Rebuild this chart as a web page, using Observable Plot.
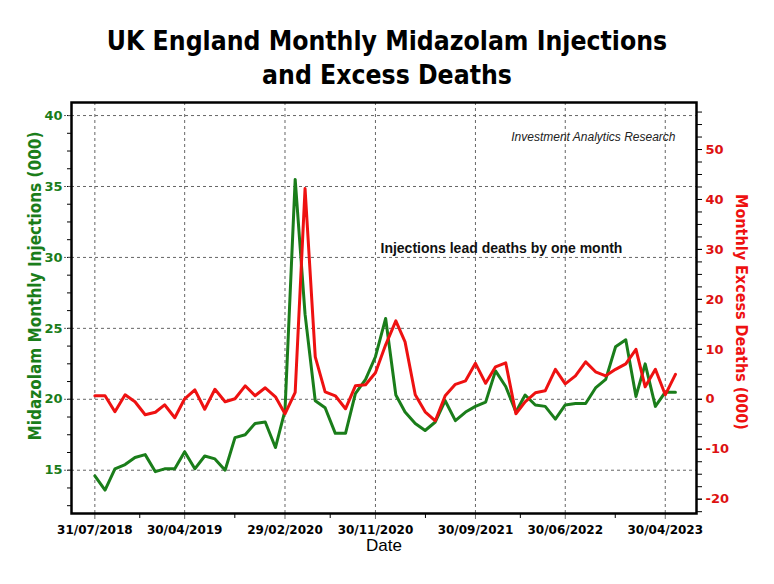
<!DOCTYPE html>
<html><head><meta charset="utf-8">
<script src="https://cdn.jsdelivr.net/npm/d3@7"></script>
<script src="https://cdn.jsdelivr.net/npm/@observablehq/plot@0.6"></script>
<style>
body{margin:0;background:#fff;}
#wrap{position:relative;width:774px;height:584px;overflow:hidden;}
#wrap svg{position:absolute;left:0;top:0;}
#title{position:absolute;left:0;top:24px;width:774px;text-align:center;font-family:"DejaVu Sans";font-weight:bold;font-size:26.3px;font-stretch:condensed;line-height:34px;color:#000;}
</style></head><body>
<div id="wrap"></div>
<script>
// ---- data (monthly, month-end dates starting 31/07/2018) ----
const startYear = 2018, startMonth = 7; // day 0 of August = 31 July
const injections = [14.6,13.6,15.1,15.4,15.9,16.1,14.9,15.1,15.1,16.3,
  15.1,16.0,15.8,15.0,17.3,17.5,18.3,18.4,16.6,19.2,
  35.5,26.0,19.9,19.4,17.6,17.6,20.4,21.4,23.0,25.7,
  20.3,19.1,18.3,17.8,18.4,19.9,18.5,19.1,19.5,19.8,
  22.0,20.9,19.1,20.3,19.6,19.5,18.6,19.6,19.7,19.7,
  20.8,21.4,23.7,24.2,20.2,22.5,19.5,20.5,20.5];
const excessDeaths = [0.7,0.7,-2.5,0.9,-0.5,-3.1,-2.6,-1.1,-3.7,0.1,
  1.9,-2.0,2.0,-0.5,0.1,2.7,0.7,2.3,0.5,-2.9,
  1.4,42.2,8.5,1.5,0.7,-1.9,2.7,2.9,5.3,10.9,
  15.7,11.5,0.9,-2.5,-4.3,0.7,3.0,3.7,7.2,3.2,
  6.5,7.3,-2.9,-0.5,1.3,1.7,6.0,3.1,4.7,7.5,
  5.5,4.7,6.0,7.1,10.0,2.5,6.0,0.9,5.0];
const xTickLabels = ["31/07/2018","30/04/2019","29/02/2020","30/11/2020","30/09/2021","30/06/2022","30/04/2023"];
const leftTicks = [15,20,25,30,35,40];
const rightTicks = [-20,-10,0,10,20,30,40,50];

const green = "#1a7d1a", red = "#ee1111";
const parse = d3.utcParse("%d/%m/%Y");
const fmt = d3.utcFormat("%d/%m/%Y");
const dates = injections.map((_, i) => new Date(Date.UTC(startYear, startMonth + i, 0)));
const xTicks = xTickLabels.map(parse);
const xMinor = xTicks.slice(1).map((d, i) => new Date((+d + +xTicks[i]) / 2));
// right axis (excess deaths) expressed on the left scale: 10 deaths units = 50px, 5 injection units = 71px
const rToL = r => 20 + r * 5 / 14.2;
const lToR = l => Math.round((l - 20) * 14.2 / 5);
const leftMinor = d3.range(12.5, 41, 1.25);
const rightMinor = d3.range(-22.5, 60, 2.5).map(rToL);

const inj = dates.map((d, i) => ({date: d, v: injections[i]}));
const dth = dates.map((d, i) => ({date: d, v: rToL(excessDeaths[i])}));

const labelFont = "DejaVu Sans Condensed, DejaVu Sans";
const chart = Plot.plot({
  width: 774, height: 584,
  marginLeft: 71, marginRight: 78, marginTop: 102, marginBottom: 71,
  style: {fontFamily: "DejaVu Sans", background: "#fff"},
  x: {type: "utc", domain: [new Date(Date.UTC(2018,4,21)), new Date(Date.UTC(2023,7,3))]},
  y: {domain: [11.95, 40.92]},
  marks: [
    Plot.gridX({ticks: xTicks, stroke: "#666", strokeOpacity: 1, strokeDasharray: "3,3"}),
    Plot.gridY({ticks: leftTicks, stroke: "#666", strokeOpacity: 1, strokeDasharray: "3,3"}),
    Plot.axisY({ticks: leftMinor, tickSize: 4, tickFormat: () => "", stroke: "#000", label: null}),
    Plot.axisY({ticks: leftTicks, tickSize: 7, tickPadding: 2, stroke: "#666", strokeDasharray: "3,2", fill: green, fontSize: 13, fontWeight: "bold", label: null}),
    Plot.axisY({anchor: "right", ticks: rightMinor, tickSize: 5, tickFormat: () => "", stroke: "#000", label: null}),
    Plot.axisY({anchor: "right", ticks: rightTicks.map(rToL), tickFormat: lToR, tickSize: 5, tickPadding: 4, stroke: "#000", fill: "#dd1111", fontSize: 13, fontWeight: "bold", label: null}),
    Plot.axisX({ticks: xMinor, tickSize: 5, tickFormat: () => "", stroke: "#000", label: null}),
    Plot.axisX({ticks: xTicks, tickFormat: fmt, tickSize: 6, tickPadding: 6, stroke: "#666", fill: "#000", fontSize: 12, fontWeight: "bold", label: null}),
    Plot.lineY(inj, {x: "date", y: "v", stroke: green, strokeWidth: 3, strokeLinejoin: "round"}),
    Plot.lineY(dth, {x: "date", y: "v", stroke: red, strokeWidth: 3, strokeLinejoin: "round"}),
    Plot.frame({stroke: "#000", strokeWidth: 2.5}),
    Plot.text(["Injections lead deaths by one month"], {frameAnchor: "top-left", dx: 309, dy: 141, textAnchor: "start", fontSize: 14, fontWeight: "bold", fontFamily: "Liberation Sans", fill: "#111"}),
    Plot.text(["Investment Analytics Research"], {frameAnchor: "top-right", dx: -21, dy: 30, textAnchor: "end", fontSize: 12, fontStyle: "italic", fontFamily: "Liberation Sans", fill: "#222"}),
    Plot.text(["Midazolam Monthly Injections (000)"], {frameAnchor: "left", textAnchor: "middle", dx: -36, dy: -22, rotate: -90, fontSize: 17, fontWeight: "bold", fontFamily: labelFont, fill: green}),
    Plot.text(["Monthly Excess Deaths (000)"], {frameAnchor: "right", textAnchor: "middle", dx: 45, dy: 4, rotate: 90, fontSize: 16, fontWeight: "bold", fontFamily: labelFont, fill: red}),
    Plot.text(["Date"], {frameAnchor: "bottom", dx: 0, dy: 37, fontSize: 17, fill: "#000", fontFamily: "Liberation Sans"})
  ]
});
const wrap = document.getElementById("wrap");
wrap.appendChild(chart);
const t = document.createElement("div");
t.id = "title";
t.innerHTML = "UK England Monthly Midazolam Injections<br>and Excess Deaths";
wrap.appendChild(t);
</script></body></html>
